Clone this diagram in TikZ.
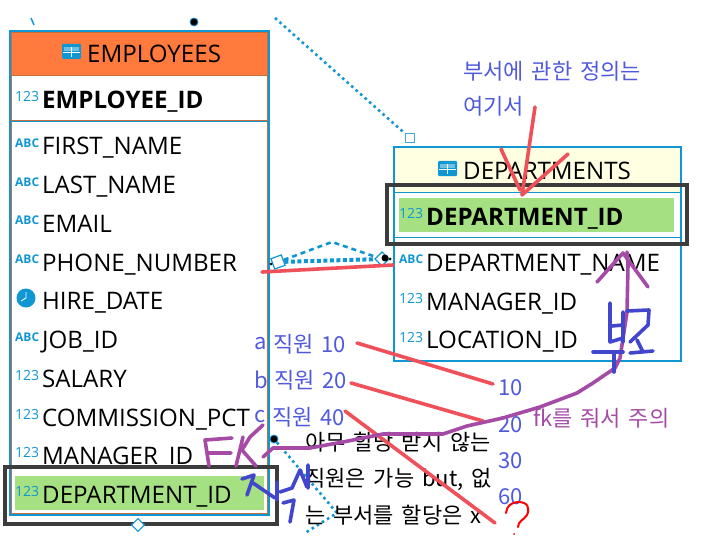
\documentclass[tikz,border=0pt]{standalone}
\usepackage{fontspec}
\setmainfont{Open Sans}
\newfontfamily\krfont[WordSpace=1.6]{Noto Sans CJK KR}
\usetikzlibrary{positioning}

\definecolor{erdblue}{RGB}{16,150,210}
\definecolor{erdorange}{RGB}{255,122,60}
\definecolor{erdline}{RGB}{200,110,60}
\definecolor{keygreen}{RGB}{165,225,130}
\definecolor{headyellow}{RGB}{255,255,225}
\definecolor{markblack}{RGB}{60,60,60}
\definecolor{penred}{RGB}{240,80,90}
\definecolor{penpurple}{RGB}{165,75,165}
\definecolor{penblue}{RGB}{65,70,205}
\definecolor{noteblue}{RGB}{80,90,220}

\tikzset{
	col/.style={anchor=west,inner sep=0pt,text height=22pt,text depth=6pt,font=\fontsize{24.1}{24}\selectfont},
	keycol/.style={col,font=\fontsize{24.1}{24}\selectfont\bfseries},
	num/.style={anchor=west,inner sep=0pt,text=erdblue,font=\fontsize{14}{14}\selectfont},
	abc/.style={anchor=west,inner sep=0pt,text=erdblue,font=\fontsize{12}{12}\selectfont\bfseries},
	note/.style={anchor=west,inner sep=0pt,text=noteblue,font=\krfont\fontsize{22}{22}\selectfont},
	memo/.style={anchor=west,inner sep=0pt,font=\krfont\fontsize{22}{22}\selectfont},
	relline/.style={erdblue,line width=2.6pt,dash pattern=on 2.6pt off 3.4pt},
	pen/.style={line width=3.6pt,line cap=round,line join=round},
	blackbox/.style={draw=markblack,line width=3.2pt},
	enddot/.style={circle,fill=black,draw=erdblue,line width=.8pt,inner sep=0pt,minimum size=8pt},
	smalldot/.style={circle,fill=black,inner sep=0pt,minimum size=3pt},
	rhomb/.style={draw=erdblue,fill=white,line width=1.2pt,rotate=45,inner sep=0pt,minimum size=9pt},
	tabletick/.style={erdblue,line width=1.5pt},
}

\newcommand{\tableicon}[2]{%
	\fill[erdblue,rounded corners=1pt] (#1,#2) rectangle ++(19,15);
	\fill[erdblue!60!white] (#1+2,#2+3) rectangle ++(15,4);
	\draw[white,line width=.8pt] (#1+1,#2+8) -- ++(17,0);
	\draw[white,line width=.8pt] (#1+9.5,#2+3) -- ++(0,10);
}

\begin{document}
\begin{tikzpicture}[x=1pt,y=-1pt]
	\useasboundingbox (0,0) rectangle (711,556);
	
	%employees table
	\fill[erdorange] (10,31) rectangle (269,75);
	\draw[erdblue,line width=1.5pt] (10,31) rectangle (269,515);
	\draw[erdline,line width=.8pt] (11.5,32) rectangle (267.5,513.5);
	\draw[erdline,line width=.8pt] (11,75.5) -- (268,75.5);
	\draw[erdline,line width=.8pt] (11,120.5) -- (268,120.5);
	\draw[erdblue,line width=.8pt] (11,121.5) -- (268,121.5);
	\fill[keygreen] (15,476) rectangle (264,510);
	\tableicon{62}{44}
	\node[col] (emptitle) at (87,55) {EMPLOYEES};
	
	\node[num] (i1) at (15,97) {123};	\node[keycol] (empid) at (42,101) {EMPLOYEE\_ID};
	\node[abc] (i2) at (15,143) {ABC};	\node[col] (fname) at (42,147) {FIRST\_NAME};
	\node[abc] (i3) at (15,182) {ABC};	\node[col] (lname) at (42,185) {LAST\_NAME};
	\node[abc] (i4) at (15,220) {ABC};	\node[col] (email) at (42,224) {EMAIL};
	\node[abc] (i5) at (15,259) {ABC};	\node[col] (phone) at (42,263) {PHONE\_NUMBER};
	\node[circle,fill=erdblue,inner sep=0pt,minimum size=19pt] (i6) at (26,298) {};
	\draw[white,line width=.9pt] (i6.center) -- ++(0,-6) (i6.center) -- ++(-5,3);
	\node[col] (hire) at (42,301) {HIRE\_DATE};
	\node[abc] (i7) at (15,337) {ABC};	\node[col] (job) at (42,340) {JOB\_ID};
	\node[num] (i8) at (15,375) {123};	\node[col] (salary) at (42,379) {SALARY};
	\node[num] (i9) at (15,414) {123};	\node[col] (comm) at (42,418) {COMMISSION\_PCT};
	\node[num] (i10) at (15,452) {123};	\node[col] (mgr) at (42,456) {MANAGER\_ID};
	\node[num] (i11) at (15,491) {123};	\node[col] (empdept) at (42,495) {DEPARTMENT\_ID};
	
	\draw[blackbox] (5,467) rectangle (277,524);
	
	%departments table
	\fill[headyellow] (394,148) rectangle (681,192);
	\draw[erdblue,line width=1.5pt] (394,147) rectangle (681,361);
	\draw[erdblue,line width=1pt] (394,192) -- (681,192);
	\draw[erdblue,line width=1pt] (394,237) -- (681,237);
	\fill[keygreen] (399,198) rectangle (674,232);
	\tableicon{438}{161}
	\node[col] (deptitle) at (463,171) {DEPARTMENTS};
	
	\node[num] (j1) at (399,213) {123};	\node[keycol] (depid) at (426,217) {DEPARTMENT\_ID};
	\node[abc] (j2) at (399,259) {ABC};	\node[col] (dname) at (426,263) {DEPARTMENT\_NAME};
	\node[num] (j3) at (399,298) {123};	\node[col] (dmgr) at (426,302) {MANAGER\_ID};
	\node[num] (j4) at (399,337) {123};	\node[col] (dloc) at (426,340) {LOCATION\_ID};
	
	\draw[blackbox] (387,185) rectangle (687,244);
	
	%relation lines
	\coordinate (stubtop) at (275,18);
	\coordinate (lowbend) at (337,513);
	\coordinate (lowend) at (305,533);
	\coordinate (peak) at (332,242);
	\node[enddot] (topdot) at (194,22) {};
	\node[enddot] (sidedot) at (274,439) {};
	\node[draw=erdblue!80,fill=white,line width=1.2pt,inner sep=0pt,minimum size=9pt] (selfbox) at (410,138) {};
	\node[rhomb] (lowrhomb) at (138,525) {};
	\draw[relline] (stubtop) -- (selfbox);
	\draw[relline] (sidedot) -- (lowbend) -- (lowend);
	\node[rhomb,rotate=-25,minimum size=11pt] (leftrhomb) at (278,262) {};
	\node[rhomb,minimum size=10pt] (rightrhomb) at (382,259) {};
	\draw[relline,line width=4pt,dash pattern=on 4pt off 2.5pt] (leftrhomb) -- (rightrhomb);
	\draw[relline,dash pattern=on 5pt off 4pt] (leftrhomb) -- (peak) -- (rightrhomb);
	\node[enddot,minimum size=7pt,draw=none] (rightdot) at (385,258) {};
	\node[smalldot] (leftend) at (271,264) {};
	\node[smalldot] (rightend) at (390,259) {};
	\draw[tabletick] (31,18) -- (34,25);
	
	%blue notes
	\node[note] (defa) at (463,71) {부서에 관한 정의는};
	\node[note] (defb) at (463,106) {여기서};
	\node[note] (ea) at (254,344) {a};
	\node[note] (eb) at (254,380) {b};
	\node[note] (ec) at (254,417) {c};
	\node[note] (wa) at (273,344) {직원 10};
	\node[note] (wb) at (274,380) {직원 20};
	\node[note] (wc) at (272,417) {직원 40};
	\node[note] (v10) at (498,388) {10};
	\node[note] (v20) at (498,425) {20};
	\node[note] (v30) at (498,461) {30};
	\node[note] (v60) at (498,497) {60};
	\node[note,text=penpurple] (fknote) at (533,418) {fk를 줘서 주의};
	
	%black memo
	\node[memo] (ma) at (305,442) {아무 할당 받지 않는};
	\node[memo] (mb) at (305,479) {직원은 가능 but, 없};
	\node[memo] (mc) at (305,515) {는 부서를 할당은 x};
	
	%red pen
	\coordinate (wastart) at (357,343);	\coordinate (waend) at (493,384);
	\coordinate (wbstart) at (351,383);	\coordinate (wbend) at (483,421);
	\coordinate (wcstart) at (345,411);	\coordinate (wcend) at (495,523);
	\draw[pen,penred] (wastart) -- (waend);
	\draw[pen,penred] (wbstart) -- (wbend);
	\draw[pen,penred] (wcstart) -- (wcend);
	\draw[pen,penred] (262,272) -- (393,265);
	\draw[pen,penred] (535,107) -- (522,195) (501,149) -- (520,190) (568,154) -- (522,195);
	\draw[red,line width=2pt,line cap=round,line join=round] (506,513) .. controls (507,506) and (510,503) .. (518,502) .. controls (528,502) and (530,508) .. (527,515) .. controls (524,520) and (518,521) .. (518,527);
	\fill[red] (514,534) circle (1pt);
	
	%purple pen
	\draw[pen,penpurple] (263,457) -- (273,448) -- (310,448) -- (343,442) -- (383,434) -- (443,434) -- (467,426) -- (503,418) -- (540,407) -- (577,393) -- (593,383) -- (615,368) -- (620,358) -- (627,312) -- (628,265) -- (627,252);
	\draw[pen,penpurple] (597,282) -- (623,253) -- (648,287);
	\draw[pen,penpurple] (209,466) -- (205,440) -- (232,438) (207,453) -- (231,453);
	\draw[pen,penpurple] (236,466) -- (243,437) (263,425) -- (250,437) -- (242,450) -- (256,466);
	
	%blue pen
	\draw[pen,penblue] (610,303) -- (610,342) -- (623,338) (623,312) -- (623,342) (612,326) -- (623,325);
	\draw[pen,penblue] (593,352) -- (623,352) (614,353) -- (614,372);
	\draw[pen,penblue] (627,311) -- (649,310) -- (648,325) -- (630,342) (630,353) -- (653,351) (637,340) -- (643,352);
	\draw[pen,penblue] (242,479) -- (254,475) -- (247,495) (253,483) -- (275,498);
	\draw[pen,penblue] (277,482) -- (277,500) (280,492) -- (292,488) -- (300,470) -- (307,487) (308,465) -- (308,488);
	\draw[pen,penblue] (283,503) -- (294,500) -- (290,522);
\end{tikzpicture}
\end{document}
